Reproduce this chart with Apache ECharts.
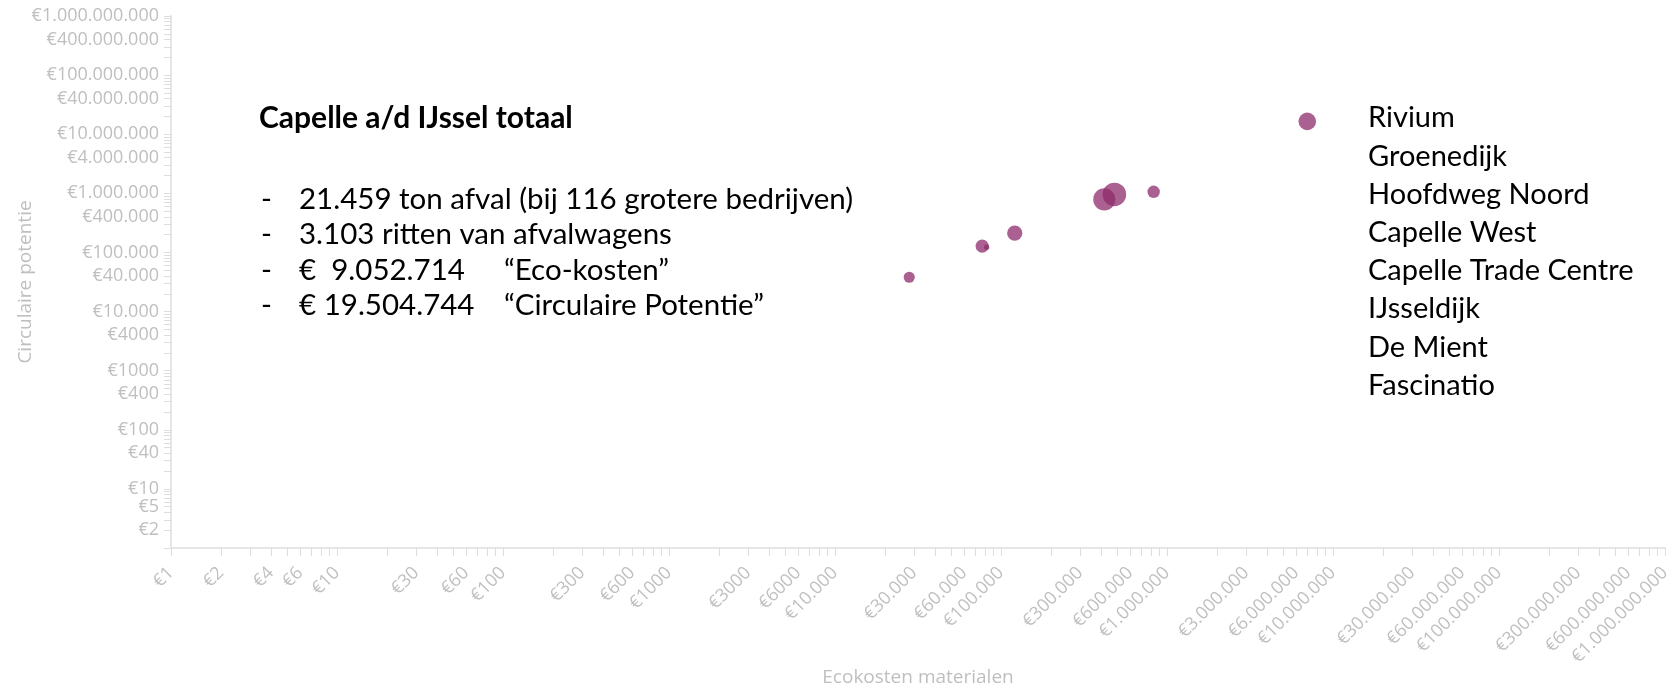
<!DOCTYPE html>
<html>
<head>
<meta charset="utf-8">
<script src="https://cdn.jsdelivr.net/npm/echarts@6/dist/echarts.min.js"></script>
<style>
  html, body { margin: 0; padding: 0; background: #fff; }
  #chart { width: 1675px; height: 691px; }
</style>
</head>
<body>
<div id="chart"></div>
<script>
  // per bubble: ecokosten materialen (x), circulaire potentie (y), ton afval (size)
  const ecoKosten = [28000, 77000, 82000, 121000, 419000, 482000, 831000, 7000000];
  const circPotentie = [38000, 128000, 123000, 212000, 789000, 959000, 1061000, 16500000];
  const tonAfval = [1280, 1800, 280, 2420, 5080, 5760, 1610, 3230];

  const areas = ['Rivium', 'Groenedijk', 'Hoofdweg Noord', 'Capelle West',
    'Capelle Trade Centre', 'IJsseldijk', 'De Mient', 'Fascinatio'];

  const xLabels = [1, 2, 4, 6, 10, 30, 60, 100, 300, 600, 1000, 3000, 6000,
    10000, 30000, 60000, 100000, 300000, 600000, 1000000, 3000000, 6000000,
    10000000, 30000000, 60000000, 100000000, 300000000, 600000000, 1000000000];
  const yLabels = [1000000000, 400000000, 100000000, 40000000, 10000000, 4000000,
    1000000, 400000, 100000, 40000, 10000, 4000, 1000, 400, 100, 40, 10, 5, 2];

  const summaryTitle = 'Capelle a/d IJssel totaal';
  const summaryLines = [
    ['21.459 ton afval (bij 116 grotere bedrijven)', ''],
    ['3.103 ritten van afvalwagens', ''],
    ['€  9.052.714', '“Eco-kosten”'],
    ['€ 19.504.744', '“Circulaire Potentie”']
  ];

  // minor ticks on every 1..9 x 10^k
  const logTicks = [];
  for (let k = 0; k < 9; k++) {
    for (let m = 1; m < 10; m++) logTicks.push(m * Math.pow(10, k));
  }
  logTicks.push(1000000000);

  const euro = v => {
    const n = Math.round(v);
    const s = n >= 10000 ? String(n).replace(/\B(?=(\d{3})+(?!\d))/g, '.') : String(n);
    return '€' + s;
  };

  const axisGrey = '#bfbfbf';
  const lineGrey = '#e6e6e6';
  const textFont = 'Lato';

  const txt = (x, y, text, font) => ({
    type: 'text', x: x, y: y,
    style: { text: text, font: font, fill: '#000', verticalAlign: 'middle' }
  });

  const graphics = [txt(259, 118, summaryTitle, 'bold 30px ' + textFont)];
  summaryLines.forEach((ln, i) => {
    const y = 199 + i * 35.6;
    graphics.push(txt(261, y, '-', '29.5px ' + textFont));
    graphics.push(txt(299, y, ln[0], '29.5px ' + textFont));
    if (ln[1]) graphics.push(txt(504, y, ln[1], '29.5px ' + textFont));
  });
  areas.forEach((a, i) => {
    graphics.push(txt(1368, 118 + i * 38.2, a, '29px ' + textFont));
  });

  const chart = echarts.init(document.getElementById('chart'));
  chart.setOption({
    animation: false,
    grid: { left: 171, right: 10, top: 16, bottom: 143, outerBoundsMode: 'none' },
    xAxis: {
      type: 'log', logBase: 10, min: 1, max: 1000000000,
      name: 'Ecokosten materialen', nameLocation: 'middle', nameGap: 120,
      nameMoveOverlap: false,
      nameTextStyle: { color: axisGrey, fontSize: 19, fontFamily: 'Open Sans' },
      axisLine: { lineStyle: { color: lineGrey, width: 2 } },
      axisTick: { customValues: logTicks, length: 8, lineStyle: { color: '#dddddd' } },
      axisLabel: {
        customValues: xLabels, rotate: 45, formatter: euro,
        color: axisGrey, fontSize: 18, fontFamily: 'Open Sans', margin: 22
      },
      splitLine: { show: false }
    },
    yAxis: {
      type: 'log', logBase: 10, min: 1, max: 1000000000,
      name: 'Circulaire potentie', nameLocation: 'middle', nameGap: 136, nameRotate: 90,
      nameMoveOverlap: false,
      nameTextStyle: { color: axisGrey, fontSize: 19, fontFamily: 'Open Sans' },
      axisLine: { show: true, lineStyle: { color: lineGrey, width: 2 } },
      axisTick: { show: true, customValues: logTicks, length: 7, lineStyle: { color: '#dddddd' } },
      axisLabel: {
        customValues: yLabels, formatter: euro,
        color: axisGrey, fontSize: 18, fontFamily: 'Open Sans', margin: 12
      },
      splitLine: { show: false }
    },
    series: [{
      type: 'scatter',
      data: ecoKosten.map((x, i) => [x, circPotentie[i], tonAfval[i]]),
      symbolSize: d => Math.sqrt(d[2]) * 0.31,
      itemStyle: { color: '#8e2b6b', opacity: 0.75 }
    }],
    graphic: graphics
  });
</script>
</body>
</html>
